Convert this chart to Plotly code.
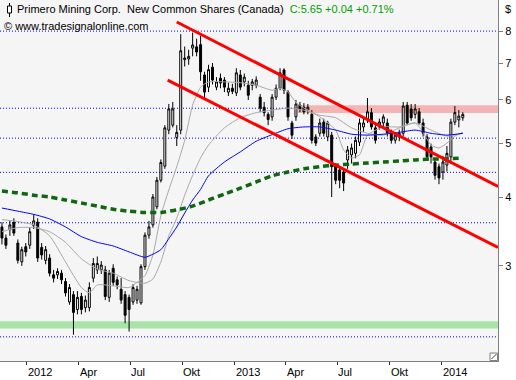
import math
import pandas as pd
import plotly.graph_objects as go

# ---------------- data (weekly bars) ----------------
dates = pd.date_range(end="2014-02-07", periods=117, freq="7D")

opens = [3.53,3.37,3.49,3.60,3.30,3.05,3.25,3.27,3.55,3.60,
         3.24,3.07,3.10,2.89,2.89,2.91,2.81,2.58,2.66,2.50,
         2.64,2.52,2.52,2.85,2.95,2.95,2.95,2.63,2.97,2.83,
         2.72,2.66,2.63,2.58,2.60,2.57,2.99,3.41,3.56,3.84,
         4.29,4.55,5.29,5.40,5.13,5.29,7.10,7.12,7.45,7.49,
         7.56,6.66,6.33,6.88,6.33,6.57,6.52,6.20,6.30,6.18,
         6.66,6.47,6.38,6.38,6.38,6.07,5.82,5.65,5.59,6.07,
         6.30,6.80,6.20,5.45,5.59,5.87,5.82,5.75,5.65,5.14,
         5.22,5.47,5.14,5.18,4.54,4.48,4.44,4.67,4.77,4.80,
         5.03,5.36,5.52,5.69,5.34,5.36,5.45,5.45,5.22,5.07,
         5.14,5.22,5.87,5.78,5.65,5.71,5.45,5.14,4.93,4.63,
         4.54,4.44,4.57,4.73,5.47,5.52,5.57]
highs = [3.60,3.42,3.62,3.66,3.35,3.25,3.30,3.52,3.72,3.66,
         3.30,3.26,3.15,2.95,2.97,2.95,2.85,2.78,2.70,2.70,
         2.68,2.65,2.80,3.10,3.12,3.06,3.00,2.95,3.02,2.87,
         2.85,2.70,2.66,2.78,2.76,3.02,3.45,3.62,4.05,4.35,
         4.68,5.40,5.90,5.95,5.40,7.90,7.50,7.40,7.95,7.75,
         7.85,6.75,6.95,7.00,6.60,6.70,6.60,6.45,6.42,6.85,
         6.80,6.70,6.50,6.55,6.62,6.15,5.95,5.70,6.15,6.40,
         6.85,6.85,6.25,5.50,6.00,5.95,5.92,5.90,5.75,5.20,
         5.55,5.55,5.50,5.25,4.60,4.55,4.50,4.95,5.00,5.15,
         5.55,5.55,6.05,5.80,5.40,5.55,5.65,5.55,5.30,5.25,
         5.30,5.95,5.95,5.90,5.90,5.80,5.55,5.20,5.00,4.70,
         4.60,4.75,4.95,5.55,5.85,5.75,5.70]
lows = [3.28,3.22,3.40,3.40,3.03,3.00,3.12,3.22,3.50,3.05,
        3.08,3.02,2.87,2.80,2.84,2.78,2.64,2.55,2.25,2.45,
        2.45,2.47,2.48,2.80,2.90,2.90,2.60,2.58,2.76,2.72,
        2.56,2.36,2.28,2.55,2.56,2.55,2.95,3.36,3.52,3.80,
        4.25,4.50,5.20,5.35,4.95,5.20,6.90,6.95,7.20,7.20,
        6.50,6.00,6.20,6.40,6.25,6.30,6.20,6.10,6.15,6.10,
        6.25,6.35,6.00,6.25,6.30,5.70,5.60,5.40,5.50,6.00,
        6.25,6.15,5.50,5.10,5.50,5.70,5.65,5.65,5.00,4.95,
        5.15,5.15,5.05,4.00,4.22,4.15,4.10,4.50,4.60,4.70,
        4.95,5.25,5.45,5.30,5.00,5.30,5.35,5.15,5.00,5.00,
        5.05,5.15,5.40,5.50,5.55,5.40,5.15,4.65,4.60,4.30,
        4.22,4.30,4.45,4.60,5.40,5.35,5.50]
closes = [3.37,3.27,3.56,3.44,3.07,3.21,3.18,3.46,3.62,3.10,
          3.14,3.21,2.91,2.85,2.93,2.83,2.68,2.74,2.47,2.63,
          2.50,2.60,2.74,3.03,3.03,3.01,2.64,2.91,2.80,2.77,
          2.60,2.44,2.50,2.74,2.72,2.99,3.41,3.53,4.00,4.29,
          4.62,5.34,5.78,5.78,5.24,7.37,7.15,7.20,7.55,7.33,
          6.75,6.20,6.81,6.52,6.47,6.44,6.33,6.30,6.22,6.72,
          6.33,6.60,6.12,6.47,6.52,5.80,5.69,5.53,6.07,6.30,
          6.72,6.25,5.59,5.18,5.90,5.78,5.71,5.82,5.07,5.01,
          5.45,5.22,5.45,4.54,4.29,4.29,4.24,4.87,4.91,5.07,
          5.45,5.45,5.71,5.36,5.07,5.47,5.59,5.22,5.07,5.18,
          5.22,5.85,5.45,5.57,5.78,5.45,5.22,4.73,4.73,4.38,
          4.33,4.63,4.80,5.47,5.69,5.61,5.65]

# moving averages (bar index -> value)
green_idx = [0,4,8,12,16,20,24,28,32,36,40,44,48,52,56,60,64,68,72,76,80,84,88,92,96,100,104,108,112,116]
green_val = [4.10,4.07,4.03,4.00,3.95,3.90,3.85,3.80,3.77,3.75,3.75,3.79,3.85,3.95,4.05,4.15,4.26,4.37,4.44,4.50,
             4.54,4.57,4.59,4.61,4.63,4.65,4.67,4.69,4.69,4.71]
blue_idx = [0,4,8,12,16,20,24,28,32,36,38,40,42,44,46,48,50,52,56,60,64,68,72,76,80,84,88,92,96,100,104,108,112,116]
blue_val = [3.82,3.77,3.72,3.65,3.53,3.39,3.31,3.26,3.18,3.11,3.15,3.21,3.36,3.53,3.74,3.95,4.13,4.37,4.63,4.83,
            5.05,5.19,5.32,5.36,5.36,5.29,5.20,5.18,5.20,5.24,5.29,5.22,5.18,5.22]
gfast_idx = [0,4,8,12,16,20,22,24,28,32,34,36,38,40,42,44,46,48,50,52,56,60,64,68,70,72,74,76,80,84,86,88,90,92,96,100,104,106,108,110,112,114,116]
gfast_val = [3.64,3.61,3.56,3.40,3.05,2.74,2.68,2.77,2.76,2.74,2.80,2.88,3.14,3.70,4.12,4.54,5.07,5.87,6.33,6.47,
             6.47,6.45,6.38,6.25,6.30,6.20,5.94,5.80,5.59,5.29,4.87,4.71,4.77,5.18,5.36,5.36,5.45,5.24,4.97,4.91,
             5.01,5.16,5.24]
gslow_idx = [0,4,8,12,16,20,24,28,32,36,38,40,42,44,46,48,50,52,56,60,64,68,72,76,80,84,88,92,96,100,104,108,112,116]
gslow_val = [3.46,3.52,3.52,3.46,3.31,3.09,2.96,2.91,2.82,2.79,2.84,3.05,3.40,3.66,4.03,4.38,4.71,4.97,5.34,5.57,
             5.69,5.75,5.80,5.75,5.63,5.57,5.34,5.22,5.18,5.34,5.45,5.29,5.16,5.22]

# trend channel (date, price)
upper_x = ["2012-09-21", "2014-04-10"]
upper_y = [8.31, 4.18]
lower_x = ["2012-09-05", "2014-04-10"]
lower_y = [6.52, 3.24]

# Fibonacci levels (2.23 -> 8.00)
fib_levels = [8.00, 5.796, 5.115, 4.434, 3.592, 2.23]
# zones
resist_zone = ("2013-04-22", 5.68, 5.87)
support_zone = (2.31, 2.38)

y_ticks = [3, 4, 5, 6, 7, 8]
x_ticks = ["2012-01-01", "2012-04-01", "2012-07-01", "2012-10-01", "2013-01-01",
           "2013-04-01", "2013-07-01", "2013-10-01", "2014-01-01"]
x_tick_text = ["2012", "Apr", "Jul", "Okt", "2013", "Apr", "Jul", "Okt", "2014"]

X_RANGE = ["2011-11-14 14:00", "2014-04-10"]
Y_RANGE = [math.log10(2.016), math.log10(9.11)]

FONT = "Liberation Sans, Arial, sans-serif"
PW, PH = 498.0, 361.0  # plot area size in px


def px(x):
    return x / PW


def py(y):
    return 1 - y / PH


fig = go.Figure()

fig.add_trace(go.Candlestick(
    x=dates, open=opens, high=highs, low=lows, close=closes,
    increasing=dict(line=dict(color="black", width=1), fillcolor="white"),
    decreasing=dict(line=dict(color="black", width=1), fillcolor="black"),
    whiskerwidth=0, hoverinfo="skip", showlegend=False))

fig.add_trace(go.Scatter(x=[dates[i] for i in gslow_idx], y=gslow_val, mode="lines",
                         line=dict(color="#a8a8a8", width=1, shape="spline", smoothing=0.6), showlegend=False))
fig.add_trace(go.Scatter(x=[dates[i] for i in gfast_idx], y=gfast_val, mode="lines",
                         line=dict(color="#a8a8a8", width=1, shape="spline", smoothing=0.6), showlegend=False))
fig.add_trace(go.Scatter(x=[dates[i] for i in blue_idx], y=blue_val, mode="lines",
                         line=dict(color="#0000ff", width=1, shape="spline", smoothing=0.6), showlegend=False))
fig.add_trace(go.Scatter(x=[dates[i] for i in green_idx], y=green_val, mode="lines",
                         line=dict(color="#116611", width=3.5, dash="6px,4px", shape="spline", smoothing=0.6),
                         showlegend=False))
fig.add_trace(go.Scatter(x=upper_x, y=upper_y, mode="lines", line=dict(color="#ff0000", width=3), showlegend=False))
fig.add_trace(go.Scatter(x=lower_x, y=lower_y, mode="lines", line=dict(color="#ff0000", width=3), showlegend=False))

shapes = []
shapes.append(dict(type="rect", xref="x", yref="y", x0=resist_zone[0], x1=X_RANGE[1],
                   y0=resist_zone[1], y1=resist_zone[2], fillcolor="#f4b4b4", line=dict(width=0), layer="below"))
shapes.append(dict(type="rect", xref="paper", yref="y", x0=0, x1=1,
                   y0=support_zone[0], y1=support_zone[1], fillcolor="#a8e4a8", line=dict(width=0), layer="below"))
for lv in fib_levels:
    shapes.append(dict(type="line", xref="paper", yref="y", x0=0, x1=1, y0=lv, y1=lv,
                       line=dict(color="#0000dd", width=1, dash="1px,2px"), layer="below"))
# header icon (small candle)
shapes.append(dict(type="line", xref="paper", yref="paper", x0=px(9.5), x1=px(9.5), y0=py(3), y1=py(17),
                   line=dict(color="black", width=1)))
shapes.append(dict(type="rect", xref="paper", yref="paper", x0=px(7.5), x1=px(11.5), y0=py(6), y1=py(13),
                   fillcolor="white", line=dict(color="black", width=1)))
# resize grip
shapes.append(dict(type="rect", xref="paper", yref="paper", x0=px(490), x1=px(497.5), y0=py(353), y1=py(360.5),
                   fillcolor="white", line=dict(color="#808080", width=1)))
shapes.append(dict(type="line", xref="paper", yref="paper", x0=px(491.5), x1=px(496.5), y0=py(359), y1=py(354),
                   line=dict(color="#404040", width=1)))

annotations = []
annotations.append(dict(xref="paper", yref="paper", x=px(15), y=py(9.5), xanchor="left", yanchor="middle",
                        showarrow=False,
                        text="Primero Mining Corp.\u00a0\u00a0New Common Shares (Canada)\u00a0\u00a0"
                             "<span style='color:#00a000'>C:5.65 +0.04 +0.71%</span>",
                        font=dict(family=FONT, size=11, color="#000000")))
annotations.append(dict(xref="paper", yref="paper", x=px(2), y=py(26), xanchor="left", yanchor="middle",
                        showarrow=False, text="\u00a9 www.tradesignalonline.com",
                        font=dict(family=FONT, size=11, color="#000000")))
annotations.append(dict(xref="paper", yref="paper", x=px(503), y=py(9), xanchor="left", yanchor="middle",
                        showarrow=False, text="$", font=dict(family=FONT, size=11, color="#000000")))
for d, t in zip(x_ticks, x_tick_text):
    annotations.append(dict(xref="x", yref="paper", x=d, y=py(372), xanchor="left", yanchor="middle",
                            xshift=-1, showarrow=False, text=t,
                            font=dict(family=FONT, size=11, color="#000000")))

fig.update_layout(
    width=516, height=380,
    margin=dict(l=0, r=18, t=0, b=19, pad=0),
    paper_bgcolor="white", plot_bgcolor="#f5f5f5",
    showlegend=False, shapes=shapes, annotations=annotations,
    xaxis=dict(type="date", range=X_RANGE, showgrid=False, zeroline=False,
               tickvals=x_ticks, showticklabels=False, ticks="outside", ticklen=3,
               tickcolor="#303030", showline=True, mirror=True, linecolor="#808080", linewidth=1,
               rangeslider=dict(visible=False), fixedrange=True),
    yaxis=dict(type="log", range=Y_RANGE, side="right", showgrid=False, zeroline=False,
               tickvals=y_ticks, ticktext=[str(v) for v in y_ticks], ticks="outside", ticklen=4,
               tickcolor="#808080", tickfont=dict(family=FONT, size=11, color="#000000"),
               showline=True, mirror=True, linecolor="#808080", linewidth=1, fixedrange=True),
)

fig.write_html("out.html", config={"displayModeBar": False, "staticPlot": True},
               post_script="document.body.style.margin='0px';document.body.style.padding='0px';")
